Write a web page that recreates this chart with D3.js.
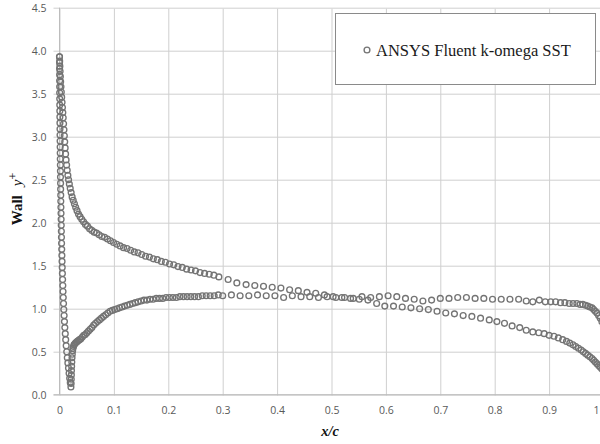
<!DOCTYPE html>
<html>
<head>
<meta charset="utf-8">
<script src="https://cdn.jsdelivr.net/npm/d3@7/dist/d3.min.js"></script>
<style>
  html, body { margin: 0; padding: 0; background: #fff; }
  svg { display: block; }
</style>
</head>
<body>
<svg id="chart" width="600" height="444"></svg>
<script>
// Wall y+ along the airfoil chord, ANSYS Fluent k-omega SST.
// Upper surface: [x/c, y+]
const upperSurface = [
  [0.0000,3.93],[0.0003,3.88],[0.0007,3.82],[0.0011,3.76],[0.0016,3.70],[0.0021,3.64],
  [0.0027,3.58],[0.0033,3.52],[0.0040,3.46],[0.0047,3.40],[0.0054,3.34],[0.0061,3.28],
  [0.0068,3.22],[0.0075,3.15],[0.0082,3.08],[0.0089,3.01],[0.0096,2.94],[0.0104,2.87],
  [0.0112,2.80],[0.0121,2.73],[0.0131,2.67],[0.0142,2.61],[0.0154,2.55],[0.0167,2.50],
  [0.0181,2.45],[0.0197,2.40],[0.0214,2.35],[0.0232,2.30],[0.0252,2.26],[0.0274,2.22],
  [0.0297,2.18],[0.0322,2.14],[0.0349,2.10],[0.0378,2.07],[0.0409,2.04],[0.0442,2.01],
  [0.0477,1.98],[0.0514,1.96],[0.0553,1.93],[0.0594,1.91],[0.0637,1.89],[0.0682,1.88],
  [0.0729,1.86],[0.0778,1.84],[0.0829,1.83],[0.0882,1.81],[0.0937,1.79],[0.0994,1.77],
  [0.1053,1.75],[0.1114,1.73],[0.1177,1.71],[0.1242,1.70],[0.1308,1.68],[0.1375,1.66],
  [0.1443,1.65],[0.1512,1.63],[0.1582,1.61],[0.1653,1.60],[0.1725,1.58],[0.1798,1.57],
  [0.1872,1.55],[0.1947,1.54],[0.2023,1.52],[0.2100,1.51],[0.2178,1.49],[0.2257,1.48],
  [0.2337,1.46],[0.2418,1.45],[0.2500,1.44],[0.2583,1.42],[0.2667,1.41],[0.2752,1.40],
  [0.2838,1.39],[0.2930,1.37],[0.3100,1.34],[0.3260,1.30],[0.3430,1.28],[0.3590,1.27],
  [0.3750,1.26],[0.3910,1.25],[0.4070,1.24],[0.4230,1.22],[0.4390,1.21],[0.4550,1.19],
  [0.4710,1.18],[0.4870,1.16],[0.5030,1.14],[0.5190,1.13],[0.5350,1.12],[0.5510,1.11],
  [0.5670,1.10],[0.5830,1.06],[0.5980,1.03],[0.6140,1.03],[0.6300,1.02],[0.6460,1.01],
  [0.6620,1.00],[0.6780,0.99],[0.6940,0.97],[0.7100,0.95],[0.7260,0.94],[0.7420,0.92],
  [0.7580,0.91],[0.7740,0.89],[0.7900,0.87],[0.8040,0.85],[0.8180,0.83],[0.8320,0.80],
  [0.8460,0.78],[0.8580,0.75],[0.8700,0.73],[0.8810,0.72],[0.8910,0.71],[0.9000,0.69],
  [0.9090,0.68],[0.9170,0.66],[0.9250,0.64],[0.9320,0.62],[0.9380,0.60],[0.9440,0.58],
  [0.9490,0.56],[0.9540,0.54],[0.9590,0.52],[0.9630,0.50],[0.9670,0.48],[0.9710,0.46],
  [0.9750,0.44],[0.9790,0.42],[0.9820,0.40],[0.9850,0.38],[0.9880,0.36],[0.9910,0.34],
  [0.9940,0.32],[0.9970,0.30]
];

// Lower surface: [x/c, y+], through the stagnation point near x/c = 0.02
const lowerSurface = [
  [0.0000,3.93],[0.0001,3.86],[0.0001,3.79],[0.0002,3.72],[0.0002,3.65],[0.0003,3.58],
  [0.0003,3.51],[0.0004,3.44],[0.0005,3.37],[0.0006,3.30],[0.0007,3.23],[0.0008,3.16],
  [0.0009,3.09],[0.0010,3.02],[0.0011,2.95],[0.0012,2.88],[0.0013,2.81],[0.0014,2.74],
  [0.0016,2.67],[0.0017,2.60],[0.0018,2.53],[0.0020,2.46],[0.0021,2.39],[0.0023,2.32],
  [0.0024,2.25],[0.0026,2.18],[0.0028,2.11],[0.0030,2.04],[0.0032,1.97],[0.0034,1.90],
  [0.0036,1.83],[0.0038,1.76],[0.0041,1.69],[0.0044,1.62],[0.0047,1.55],[0.0050,1.48],
  [0.0053,1.41],[0.0057,1.34],[0.0061,1.27],[0.0065,1.20],[0.0069,1.13],[0.0074,1.06],
  [0.0079,0.99],[0.0085,0.92],[0.0091,0.85],[0.0098,0.78],[0.0106,0.71],[0.0114,0.64],
  [0.0123,0.57],[0.0133,0.50],[0.0143,0.43],[0.0154,0.37],[0.0165,0.31],[0.0176,0.25],
  [0.0187,0.19],[0.0198,0.14],[0.0210,0.09],
  [0.0214,0.13],[0.0216,0.18],[0.0218,0.23],[0.0220,0.28],[0.0223,0.33],[0.0226,0.38],
  [0.0230,0.43],[0.0235,0.47],[0.0241,0.51],[0.0248,0.54],[0.0257,0.56],[0.0267,0.58],
  [0.0279,0.59],[0.0293,0.60],[0.0309,0.61],[0.0327,0.62],[0.0347,0.63],[0.0369,0.64],
  [0.0393,0.65],[0.0419,0.67],[0.0446,0.69],[0.0474,0.70],[0.0503,0.72],[0.0533,0.74],
  [0.0564,0.76],[0.0596,0.78],[0.0629,0.81],[0.0663,0.83],[0.0698,0.85],[0.0734,0.87],
  [0.0771,0.89],[0.0809,0.91],[0.0848,0.93],[0.0888,0.95],[0.0929,0.97],[0.0971,0.98],
  [0.1014,0.99],[0.1058,1.00],[0.1103,1.01],[0.1149,1.02],[0.1196,1.03],[0.1244,1.04],
  [0.1293,1.05],[0.1343,1.06],[0.1394,1.07],[0.1446,1.08],[0.1499,1.09],[0.1553,1.10],
  [0.1608,1.10],[0.1664,1.11],[0.1721,1.11],[0.1779,1.12],[0.1838,1.12],[0.1898,1.12],
  [0.1959,1.13],[0.2021,1.13],[0.2084,1.13],[0.2148,1.13],[0.2213,1.14],[0.2279,1.14],
  [0.2346,1.14],[0.2414,1.14],[0.2483,1.14],[0.2553,1.14],[0.2624,1.15],[0.2696,1.15],
  [0.2769,1.15],[0.2843,1.15],[0.2918,1.16],[0.3000,1.15],[0.3160,1.16],[0.3320,1.15],
  [0.3480,1.15],[0.3640,1.16],[0.3800,1.15],[0.3960,1.15],[0.4120,1.13],[0.4280,1.15],
  [0.4440,1.14],[0.4600,1.14],[0.4760,1.13],[0.4920,1.14],[0.5080,1.13],[0.5240,1.13],
  [0.5400,1.12],[0.5560,1.14],[0.5720,1.13],[0.5880,1.14],[0.6040,1.15],[0.6200,1.14],
  [0.6360,1.12],[0.6520,1.11],[0.6680,1.09],[0.6840,1.10],[0.7000,1.12],[0.7160,1.12],
  [0.7320,1.13],[0.7480,1.13],[0.7640,1.12],[0.7800,1.12],[0.7960,1.11],[0.8120,1.11],
  [0.8280,1.11],[0.8440,1.11],[0.8580,1.09],[0.8700,1.08],[0.8820,1.10],[0.8930,1.08],
  [0.9030,1.08],[0.9120,1.08],[0.9210,1.07],[0.9290,1.07],[0.9370,1.06],[0.9440,1.06],
  [0.9510,1.06],[0.9570,1.05],[0.9620,1.05],[0.9670,1.04],[0.9710,1.03],[0.9750,1.02],
  [0.9790,1.01],[0.9820,0.99],[0.9850,0.97],[0.9880,0.95],[0.9910,0.92],[0.9940,0.89],
  [0.9970,0.85],[1.0000,0.80]
];

const xTicks = [0, 0.1, 0.2, 0.3, 0.4, 0.5, 0.6, 0.7, 0.8, 0.9, 1];
const xTickLabels = ["0", "0.1", "0.2", "0.3", "0.4", "0.5", "0.6", "0.7", "0.8", "0.9", "1"];
const yTicks = [0, 0.5, 1, 1.5, 2, 2.5, 3, 3.5, 4, 4.5];
const yTickLabels = ["0.0", "0.5", "1.0", "1.5", "2.0", "2.5", "3.0", "3.5", "4.0", "4.5"];
const seriesName = "ANSYS Fluent k-omega SST";

const W = 600;
const svg = d3.select("#chart");
const plot = { left: 59.5, right: 603.5, top: 7.7, bottom: 394.7 };

const x = d3.scaleLinear().domain([0, 1]).range([plot.left, plot.right]);
const y = d3.scaleLinear().domain([0, 4.5]).range([plot.bottom, plot.top]);

const gridColor = "#cfcfcf";
const labelColor = "#595959";
const tickFont = "'Open Sans', 'DejaVu Sans', sans-serif";

// Horizontal grid + y tick labels
const yAxis = d3.axisLeft(y)
  .tickValues(yTicks)
  .tickFormat((d, i) => yTickLabels[i])
  .tickSizeInner(-(plot.right - plot.left + 6))
  .tickSizeOuter(0)
  .tickPadding(7);

const gy = svg.append("g")
  .attr("transform", `translate(${plot.left - 6},0)`)
  .call(yAxis);
gy.select(".domain").remove();
gy.selectAll(".tick line").attr("stroke", gridColor).attr("stroke-width", 1);
gy.selectAll(".tick text")
  .attr("fill", labelColor)
  .style("font-family", tickFont)
  .style("font-size", "10.5px");

// Vertical grid + x tick labels
const xAxis = d3.axisBottom(x)
  .tickValues(xTicks)
  .tickFormat((d, i) => xTickLabels[i])
  .tickSizeInner(-(plot.bottom - plot.top))
  .tickSizeOuter(0)
  .tickPadding(11);

const gx = svg.append("g")
  .attr("transform", `translate(0,${plot.bottom + 1})`)
  .call(xAxis);
gx.select(".domain").remove();
gx.selectAll(".tick line").attr("stroke", gridColor).attr("stroke-width", 1);
gx.selectAll(".tick text")
  .attr("fill", labelColor)
  .style("font-family", tickFont)
  .style("font-size", "10.5px");
// The last label sits at the window edge; keep it inside the frame.
gx.selectAll(".tick text")
  .filter(d => x(d) > W - 4)
  .attr("text-anchor", "end")
  .attr("x", d => (W - 1) - x(d));

// Axis lines
svg.append("line")
  .attr("x1", x(0)).attr("x2", x(0))
  .attr("y1", y(4.5)).attr("y2", y(0))
  .attr("stroke", "#bcbcbc").attr("stroke-width", 1);
svg.append("line")
  .attr("x1", x(0) - 6).attr("x2", plot.right)
  .attr("y1", y(0)).attr("y2", y(0))
  .attr("stroke", "#bcbcbc").attr("stroke-width", 1);

// Markers
const markerStroke = "#747474";
const markerR = 2.9;
const marks = svg.append("g").attr("fill", "none").attr("stroke", markerStroke).attr("stroke-width", 1.35);
[upperSurface, lowerSurface].forEach(series => {
  marks.append("g")
    .selectAll("circle")
    .data(series)
    .join("circle")
    .attr("cx", d => x(d[0]))
    .attr("cy", d => y(d[1]))
    .attr("r", markerR);
});

// Legend
const legend = svg.append("g");
legend.append("rect")
  .attr("x", 335.5).attr("y", 13.5)
  .attr("width", 260).attr("height", 71)
  .attr("fill", "#fff")
  .attr("stroke", "#8a8a8a").attr("stroke-width", 1);
legend.append("circle")
  .attr("cx", 367).attr("cy", 50)
  .attr("r", markerR)
  .attr("fill", "none").attr("stroke", markerStroke).attr("stroke-width", 1.35);
legend.append("text")
  .attr("x", 376).attr("y", 55.5)
  .attr("fill", "#1a1a1a")
  .style("font-family", "'Liberation Serif', 'Times New Roman', serif")
  .style("font-size", "16.5px")
  .text(seriesName);

// Axis titles
const yTitle = svg.append("text")
  .attr("transform", `translate(22,199) rotate(-90)`)
  .attr("text-anchor", "middle")
  .attr("fill", "#111")
  .style("font-family", "'Liberation Serif', 'Times New Roman', serif")
  .style("font-size", "15px");
yTitle.append("tspan").attr("font-weight", "bold").text("Wall");
yTitle.append("tspan").attr("dx", 9).attr("font-style", "italic").text("y");
yTitle.append("tspan").attr("dy", -5).style("font-size", "12px").text("+");

svg.append("text")
  .attr("x", 330).attr("y", 436)
  .attr("text-anchor", "middle")
  .attr("fill", "#111")
  .style("font-family", "'Liberation Serif', 'Times New Roman', serif")
  .style("font-size", "14.5px")
  .style("font-weight", "bold")
  .style("font-style", "italic")
  .text("x/c");
</script>
</body>
</html>
